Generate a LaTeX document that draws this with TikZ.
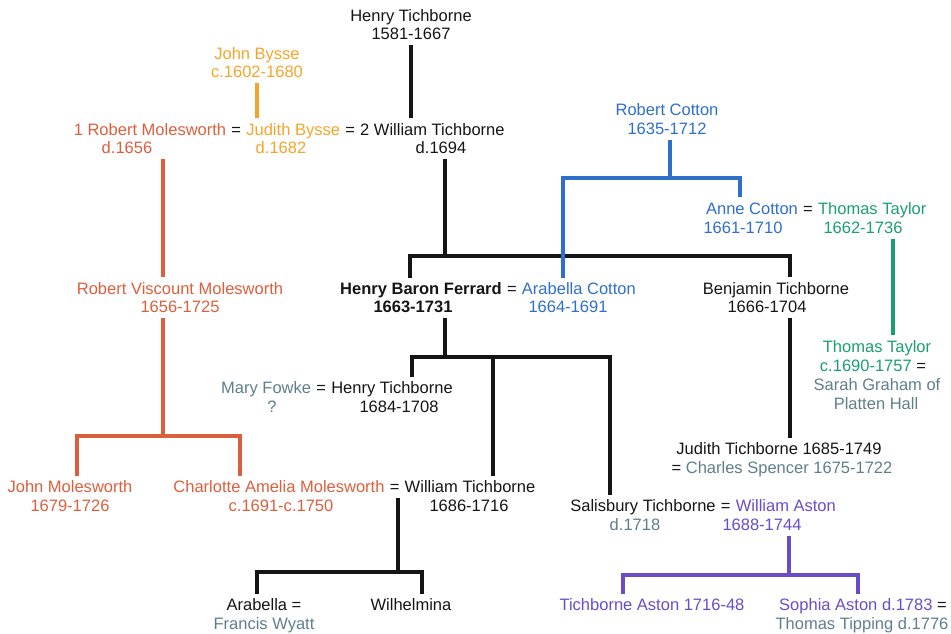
\documentclass[tikz,border=0pt]{standalone}
\usepackage{fontspec}
\setmainfont{Liberation Sans}
\usetikzlibrary{positioning}

\definecolor{tblack}{HTML}{151515}
\definecolor{molred}{HTML}{DC5F3C}
\definecolor{bysorg}{HTML}{F5A52A}
\definecolor{cotblue}{HTML}{2F6FCC}
\definecolor{taygrn}{HTML}{1B9E72}
\definecolor{spgrey}{HTML}{5E7F8A}
\definecolor{astpur}{HTML}{6B4CC8}

\begin{document}
\begin{tikzpicture}[
      x=0.02cm, y=-0.02cm,
      nm/.style={inner sep=0pt, text height=6.7pt, text depth=0pt,
                 font=\fontsize{9.4}{11}\selectfont, text=tblack},
      bnm/.style={nm, font=\fontsize{9.4}{11}\selectfont\bfseries},
      lnk/.style={line width=2pt, color=tblack,
                  shorten <=2.5pt, shorten >=3pt},
    ]
    \useasboundingbox (0,0) rectangle (951,633);

    \node[nm] (htich)   at (411,16) {Henry Tichborne};
    \node[nm] (htich-d) at (411,34) {1581-1667};
    \node[nm, text=bysorg] (jbysse)   at (257,54) {John Bysse};
    \node[nm, text=bysorg] (jbysse-d) at (257,72) {c.1602-1680};
    \node[nm, text=cotblue] (rcot)   at (667,110) {Robert Cotton};
    \node[nm, text=cotblue] (rcot-d) at (667,129) {1635-1712};

    \node[nm, text=molred] (rmol) at (150,130) {1 Robert Molesworth};
    \node[nm] (eq-rj) [right=2.6pt of rmol] {=};
    \node[nm, text=bysorg] (jbys) [right=2.6pt of eq-rj] {Judith Bysse};
    \node[nm] (eq-jw) [right=2.6pt of jbys] {=};
    \node[nm] (wtich) [right=2.6pt of eq-jw] {2 William Tichborne};
    \node[nm, text=molred] (rmol-d) at (127,148) {d.1656};
    \node[nm, text=bysorg] (jbys-d) at (281,148) {d.1682};
    \node[nm] (wtich-d) at (441,148) {d.1694};

    \node[nm, text=cotblue] (acot) at (752,209) {Anne Cotton};
    \node[nm] (eq-at) [right=2.6pt of acot] {=};
    \node[nm, text=taygrn] (ttay) [right=2.6pt of eq-at] {Thomas Taylor};
    \node[nm, text=cotblue] (acot-d) at (743,228) {1661-1710};
    \node[nm, text=taygrn] (ttay-d) at (863,228) {1662-1736};

    \node[nm, text=molred] (rvm)   at (180,289) {Robert Viscount Molesworth};
    \node[nm, text=molred] (rvm-d) at (180,307) {1656-1725};
    \node[bnm] (ferr) at (421,289) {Henry Baron Ferrard};
    \node[nm] (eq-fa) [right=2.6pt of ferr] {=};
    \node[nm, text=cotblue] (arcot) [right=2.6pt of eq-fa] {Arabella Cotton};
    \node[bnm] (ferr-d) at (413,307) {1663-1731};
    \node[nm, text=cotblue] (arcot-d) at (568,307) {1664-1691};
    \node[nm] (bent)   at (776,289) {Benjamin Tichborne};
    \node[nm] (bent-d) at (767,307) {1666-1704};

    \node[nm, text=taygrn] (ttay2) at (877,347) {Thomas Taylor};
    \node[nm] (ttay2-d) at (873,366) {\textcolor{taygrn}{c.1690-1757} =};
    \node[nm, text=spgrey] (sgra)   at (877,385) {Sarah Graham of};
    \node[nm, text=spgrey] (sgra-2) at (876,404) {Platten Hall};

    \node[nm] (htich2) at (392,388) {Henry Tichborne};
    \node[nm] (eq-mh) [left=2.6pt of htich2] {=};
    \node[nm, text=spgrey] (mfow) [left=2.6pt of eq-mh] {Mary Fowke};
    \node[nm, text=spgrey] (mfow-d) at (272,407) {?};
    \node[nm] (htich2-d) at (399,407) {1684-1708};

    \node[nm] (jtich) at (779,449) {Judith Tichborne 1685-1749};
    \node[nm] (cspen) at (782,468) {= \textcolor{spgrey}{Charles Spencer 1675-1722}};

    \node[nm, text=molred] (jmol)   at (70,487) {John Molesworth};
    \node[nm, text=molred] (jmol-d) at (70,506) {1679-1726};
    \node[nm, text=molred] (cam) at (279,487) {Charlotte Amelia Molesworth};
    \node[nm] (eq-cw) [right=2.6pt of cam] {=};
    \node[nm] (wtich2) [right=2.6pt of eq-cw] {William Tichborne};
    \node[nm, text=molred] (cam-d) at (281,506) {c.1691-c.1750};
    \node[nm] (wtich2-d) at (469,506) {1686-1716};

    \node[nm] (sal) at (643,506) {Salisbury Tichborne};
    \node[nm] (eq-sw) [right=2.6pt of sal] {=};
    \node[nm, text=astpur] (wast) [right=2.6pt of eq-sw] {William Aston};
    \node[nm, text=spgrey] (sal-d)  at (635,525) {d.1718};
    \node[nm, text=astpur] (wast-d) at (762,525) {1688-1744};

    \node[nm] (arab) at (264,605) {Arabella =};
    \node[nm, text=spgrey] (fwya) at (264,624) {Francis Wyatt};
    \node[nm] (wilh) at (411,605) {Wilhelmina};
    \node[nm, text=astpur] (tast) at (652,605) {Tichborne Aston 1716-48};
    \node[nm] (soph) at (863,605) {\textcolor{astpur}{Sophia Aston d.1783} =};
    \node[nm, text=spgrey] (ttip) at (862,624) {Thomas Tipping d.1776};

    \coordinate (mol-l) at (77,436);
    \coordinate (mol-m) at (163,436);
    \coordinate (mol-r) at (240,436);
    \coordinate (tch-l) at (410,256);
    \coordinate (tch-m) at (445,256);
    \coordinate (tch-r) at (790,256);
    \coordinate (cot-l) at (563,178);
    \coordinate (cot-m) at (670,178);
    \coordinate (cot-r) at (740,178);
    \coordinate (tay-x) at (893,300);
    \coordinate (fer-l) at (412,357);
    \coordinate (fer-m) at (445,357);
    \coordinate (fer-c) at (493,357);
    \coordinate (fer-r) at (610,357);
    \coordinate (wil-l) at (257,572);
    \coordinate (wil-m) at (398,572);
    \coordinate (wil-r) at (422,572);
    \coordinate (ast-l) at (623,575);
    \coordinate (ast-m) at (789,575);
    \coordinate (ast-r) at (858,575);

    \draw[lnk, bysorg] (jbysse-d.south) -- (jbysse-d.south |- jbys.north);
    \draw[lnk] (htich-d.south) -- (htich-d.south |- wtich.north);
    \draw[lnk, molred] (rmol-d.south -| mol-m) -- (rvm.north -| mol-m);
    \draw[lnk, molred, shorten >=0pt] (rvm-d.south -| mol-m) -- (mol-m);
    \draw[lnk, molred] (jmol.north -| mol-l) |- (mol-r) -- (cam.north -| mol-r);
    \draw[lnk, shorten >=0pt] (wtich-d.south -| tch-m) -- (tch-m);
    \draw[lnk] (ferr.north -| tch-l) |- (tch-r) -- (bent.north -| tch-r);
    \draw[lnk, cotblue, shorten >=0pt] (rcot-d.south -| cot-m) -- (cot-m);
    \draw[lnk, cotblue] (arcot.north -| cot-l) |- (cot-r) -- (acot.north -| cot-r);
    \draw[lnk, taygrn] (ttay-d.south -| tay-x) -- (ttay2.north -| tay-x);
    \draw[lnk] (bent-d.south -| tch-r) -- (jtich.north -| tch-r);
    \draw[lnk, shorten >=0pt] (ferr-d.south -| fer-m) -- (fer-m);
    \draw[lnk] (htich2.north -| fer-l) |- (fer-r) -- (sal.north -| fer-r);
    \draw[lnk, shorten <=0pt] (fer-c) -- (wtich2.north -| fer-c);
    \draw[lnk, shorten >=0pt] (eq-cw.south -| wil-m) -- (wil-m);
    \draw[lnk] (arab.north -| wil-l) |- (wil-r) -- (wilh.north -| wil-r);
    \draw[lnk, astpur, shorten >=0pt] (wast-d.south -| ast-m) -- (ast-m);
    \draw[lnk, astpur] (tast.north -| ast-l) |- (ast-r) -- (soph.north -| ast-r);
  \end{tikzpicture}
\end{document}
